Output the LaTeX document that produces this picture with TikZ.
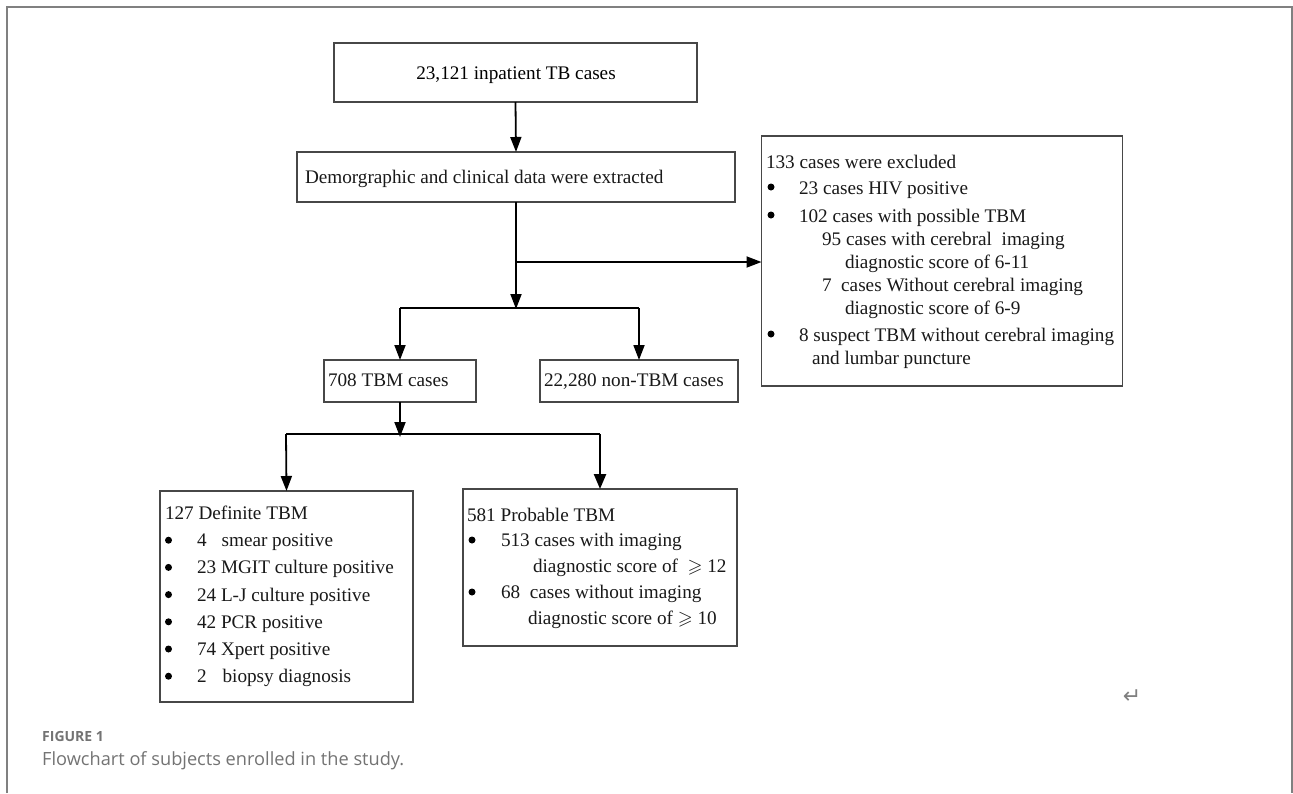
\documentclass[tikz,border=0pt]{standalone}
\usepackage{amssymb}
\usepackage{fontspec}
\setmainfont{Liberation Serif}
\newfontfamily\capfont{Open Sans}
\newfontfamily\symfont{DejaVu Sans}
\usetikzlibrary{arrows.meta,shadows}
\newcommand{\fs}{\fontsize{19.2}{21}\selectfont}
\tikzset{
  box/.style={draw=black!72, line width=1.3pt, fill=white, inner sep=0pt, outer sep=0pt,
    drop shadow={shadow xshift=0.8pt, shadow yshift=-1.2pt, fill=black!55, opacity=0.8}},
  txt/.style={anchor=base west, inner sep=0pt, outer sep=0pt, font=\fs, text=black!90},
  dot/.style={circle, fill=black, inner sep=0pt, minimum size=7pt},
  arr/.style={line width=1.8pt, draw=black, -{Triangle[length=15pt,width=11pt]}},
  arrb/.style={line width=2.4pt, draw=black, -{Triangle[length=15pt,width=12pt]}},
  ln/.style={line width=1.8pt, draw=black},
  frameln/.style={line width=1.4pt, draw=black!50},
}
\begin{document}
\begin{tikzpicture}[x=1pt,y=-1pt]
\useasboundingbox (0,0) rectangle (1293,793);
% outer frame (open at bottom)
\draw[frameln] (7,793) -- (7,7) -- (1292,7) -- (1292,793);

% boxes
\node[box, minimum width=363pt, minimum height=59pt] (b1) at (515.5,72.5) {};
\node[box, minimum width=438pt, minimum height=50pt] (b2) at (516,177) {};
\node[box, minimum width=361pt, minimum height=250pt] (b3) at (942,261) {};
\node[box, minimum width=152pt, minimum height=42pt] (tbm) at (400,381) {};
\node[box, minimum width=198pt, minimum height=42pt] (non) at (639,381) {};
\node[box, minimum width=253pt, minimum height=211pt] (def) at (286.5,596.5) {};
\node[box, minimum width=274pt, minimum height=157pt] (prob) at (600,567.5) {};

% box texts
\node[anchor=base, inner sep=0pt, font=\fs] (t1) at (516,79) {23,121 inpatient TB cases};
\node[txt] (t2) at (305,183) {Demorgraphic and clinical data were extracted};

\node[txt] (e0) at (766,168) {133 cases were excluded};
\node[dot] (eb1) at (771,187) {};
\node[txt] (e1) at (799,194) {23 cases HIV positive};
\node[dot] (eb2) at (771,215) {};
\node[txt] (e2) at (799,222) {102 cases with possible TBM};
\node[txt] (e3) at (822,245) {95 cases with cerebral\ \ imaging};
\node[txt] (e4) at (845,268) {diagnostic score of 6-11};
\node[txt] (e5) at (822,291) {7\ \ cases Without cerebral imaging};
\node[txt] (e6) at (845,314) {diagnostic score of 6-9};
\node[dot] (eb3) at (771,334) {};
\node[txt] (e7) at (799,341) {8 suspect TBM without cerebral imaging};
\node[txt] (e8) at (812,364) {and lumbar puncture};

\node[txt] (t3) at (328,386) {708 TBM cases};
\node[txt] (t4) at (544,386) {22,280 non-TBM cases};

\node[txt] (d0) at (165,519.5) {127 Definite TBM};
\foreach \yy/\nm in {546.7/1,573.9/2,601.1/3,628.3/4,655.5/5,682.7/6}
  \node[dot] (db\nm) at (168.5,\yy-6.5) {};
\node[txt] (d1) at (197,546.7) {4\hspace{15pt}smear positive};
\node[txt] (d2) at (197,573.9) {23 MGIT culture positive};
\node[txt] (d3) at (197,601.1) {24 L-J culture positive};
\node[txt] (d4) at (197,628.3) {42 PCR positive};
\node[txt] (d5) at (197,655.5) {74 Xpert positive};
\node[txt] (d6) at (197,682.7) {2\hspace{16pt}biopsy diagnosis};

\node[txt] (p0) at (467,521) {581 Probable TBM};
\node[dot] (pb1) at (472,540) {};
\node[txt] (p1) at (501,546) {513 cases with imaging};
\node[txt] (p2) at (533,572) {diagnostic score of \ $\geqslant$ 12};
\node[dot] (pb2) at (472,592) {};
\node[txt] (p3) at (501,598) {68\ \ cases without imaging};
\node[txt] (p4) at (528,624) {diagnostic score of $\geqslant$ 10};

% junction coordinates
\coordinate (j1) at (516,308);
\coordinate (jb) at (516,262);
\coordinate (s1l) at (400,308);
\coordinate (s1r) at (639,308);
\coordinate (j2) at (400,434);
\coordinate (s2l) at (286,434);
\coordinate (s2r) at (600,434);

% connectors
\draw[arr] (b1.south) -- (b2.north);
\draw[arr] (b2.south) -- ([yshift=-1pt]j1);
\draw[arr] (jb) -- (jb -| b3.west);
\draw[ln] (s1l) -- (s1r);
\draw[arr] (s1l) -- (tbm.north);
\draw[arr] (s1r) -- (non.north);
\draw[arr] (tbm.south) -- ([yshift=-3pt]j2);
\draw[ln] (s2l) -- (s2r);
\draw[arr] (s2l) -- (def.north);
\draw[arrb] (s2r) -- (prob.north);

% return mark
\node[inner sep=0pt, font=\symfont\fontsize{22}{22}\selectfont, text=black!50] (ret) at (1132,697) {↵};

% caption
\node[anchor=base west, inner sep=0pt, font=\capfont\bfseries\fontsize{14}{16}\selectfont, text=black!55] (fig) at (42,741) {FIGURE 1};
\node[anchor=base west, inner sep=0pt, font=\capfont\fontsize{18.2}{20}\selectfont, text=black!55] (cap) at (42,765) {Flowchart of subjects enrolled in the study.};
\end{tikzpicture}
\end{document}
